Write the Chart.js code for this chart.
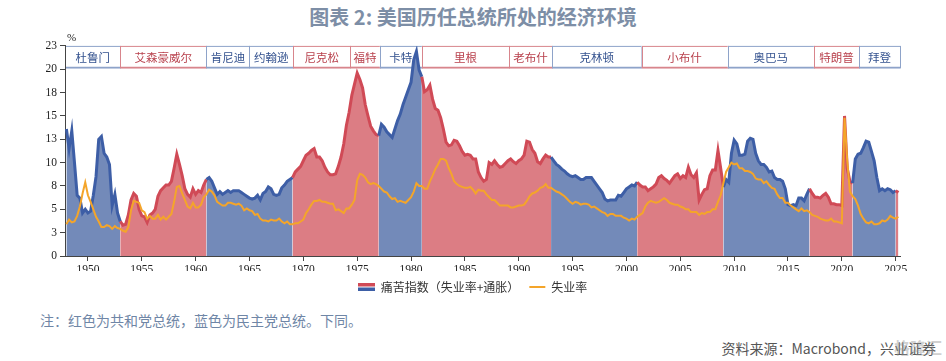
<!DOCTYPE html>
<html>
<head>
<meta charset="utf-8">
<script src="https://cdn.jsdelivr.net/npm/chart.js@4.4.1/dist/chart.umd.min.js"></script>
<style>
body{margin:0;width:946px;height:361px;background:#fff;position:relative;overflow:hidden;font-family:"Noto Sans CJK SC",sans-serif}
#title{position:absolute;top:2px;left:0;width:946px;text-align:center;font-size:20px;font-weight:bold;color:#7d8ea6}
#wrap{position:absolute;left:0;top:36px;width:946px;height:267px}
#pct{position:absolute;left:67px;top:31px;font:11px "Liberation Serif",serif;color:#222}
#note{position:absolute;left:40px;top:310px;font-size:14px;color:#6f86a6}
#src{position:absolute;right:10px;top:338px;font-size:14px;color:#555}
#wm{position:absolute;right:4px;top:335px;font-size:16px;color:rgba(150,150,150,.45);font-weight:bold}
</style>
</head>
<body>
<div id="title">图表 2: 美国历任总统所处的经济环境</div>
<div id="wrap"><canvas id="chart"></canvas></div>
<span id="pct">%</span>
<div id="note">注：红色为共和党总统，蓝色为民主党总统。下同。</div>
<div id="src">资料来源：Macrobond，兴业证券</div>
<div id="wm">格隆汇</div>
<script>
// quarterly values, first point = 1948 Q1
var START_YEAR = 1948;

// 痛苦指数 = 失业率 + 通胀
var misery = [
  13.6, 11.5, 13.4, 10.0,  // 1948
  6.5, 6.2, 4.6, 5.0,
  4.6, 4.8, 6.5, 8.5,      // 1950
  12.5, 12.8, 11.0, 10.6,
  9.8, 5.4, 6.6, 4.6,
  3.7, 3.3, 3.4, 4.4,
  6.0, 6.7, 6.4, 5.0,
  4.3, 4.2, 3.6, 4.4,      // 1955
  4.6, 5.0, 6.4, 7.0,
  7.3, 7.6, 7.6, 8.0,
  9.4, 10.9, 9.8, 8.6,
  7.2, 6.6, 6.3, 7.2,
  6.6, 7.0, 6.8, 7.6,      // 1960
  8.2, 8.4, 8.0, 7.3,
  6.6, 6.9, 6.6, 6.8,
  7.0, 6.8, 7.0, 7.0,
  7.0, 6.8, 6.6, 6.4,
  6.2, 6.1, 6.2, 6.5,      // 1965
  6.0, 6.7, 6.9, 7.4,
  7.2, 6.6, 6.5, 6.6,
  7.3, 7.6, 8.0, 8.2,
  8.4, 9.0, 9.3, 9.6,
  10.2, 10.8, 11.0, 11.3,  // 1970
  11.5, 10.6, 10.6, 10.2,
  9.5, 9.0, 8.7, 8.7,
  8.8, 9.6, 10.6, 12.0,
  14.0, 15.4, 17.2, 18.4,
  19.6, 18.9, 18.0, 16.2,  // 1975
  15.0, 13.9, 13.4, 13.0,
  12.9, 14.1, 13.8, 13.3,
  13.0, 12.7, 13.6, 14.5,
  15.2, 16.2, 17.0, 17.8,
  18.6, 21.0, 21.9, 19.9,  // 1980
  19.2, 17.6, 17.8, 18.3,
  16.8, 15.8, 15.6, 14.8,
  13.6, 12.2, 11.8, 11.9,
  12.4, 12.3, 11.8, 11.2,
  10.8, 10.9, 10.8, 10.4,  // 1985
  10.4, 9.0, 8.4, 8.0,
  8.2, 10.0, 9.8, 10.2,
  9.8, 9.5, 9.6, 9.9,
  10.2, 10.4, 10.1, 9.9,
  10.2, 10.4, 10.8, 12.3,  // 1990
  12.2, 11.4, 11.0, 10.1,
  9.9, 10.4, 10.8, 10.6,
  10.6, 10.2, 9.8, 9.6,
  9.3, 9.1, 8.8, 8.6,
  8.5, 8.6, 8.4, 8.2,      // 1995
  8.2, 8.4, 8.4, 8.4,
  8.0, 7.6, 7.2, 6.8,
  6.1, 5.9, 6.0, 6.0,
  6.0, 6.5, 6.4, 6.8,
  7.2, 7.4, 7.6, 7.5,      // 2000
  7.9, 7.6, 7.4, 7.4,
  7.0, 7.2, 7.4, 7.7,
  8.4, 8.6, 8.3, 8.1,
  7.8, 8.2, 8.6, 8.8,
  8.3, 8.6, 8.4, 9.5,      // 2005
  8.7, 8.4, 8.9, 6.0,
  6.6, 7.1, 7.2, 8.6,
  9.2, 9.2, 11.3, 9.4,
  7.4, 8.2, 7.9, 11.0,
  12.4, 12.0, 10.8, 10.8,  // 2010
  10.9, 12.3, 12.6, 12.5,
  11.0, 10.2, 9.8, 9.8,
  9.5, 9.0, 9.1, 8.4,
  8.2, 8.2, 8.0, 7.2,
  5.5, 5.4, 5.5, 5.4,      // 2015
  6.2, 6.2, 5.9, 6.6,
  7.2, 6.7, 6.3, 6.3,
  6.2, 6.5, 6.7, 6.3,
  5.6, 5.6, 5.5, 5.5,
  5.4, 15.0, 9.4, 8.0,     // 2020
  7.8, 10.4, 10.9, 11.0,
  11.6, 12.3, 12.2, 11.2,
  10.2, 8.4, 7.0, 7.2,
  7.0, 7.2, 7.1, 6.8,
  7.0, 6.8                 // 2025
];

// 失业率
var unemployment = [
  3.4, 3.9, 3.6, 3.7,  // 1948
  4.3, 5.3, 6.7, 7.9,
  6.5, 5.8, 5.0, 4.2,  // 1950
  3.7, 3.1, 3.1, 3.3,
  3.2, 2.9, 3.2, 3.0,
  2.9, 2.7, 2.6, 3.1,
  4.9, 5.9, 5.8, 5.7,
  4.9, 4.7, 4.0, 4.3,  // 1955
  4.0, 4.0, 4.4, 3.9,
  4.2, 3.9, 4.2, 4.5,
  5.8, 7.4, 7.5, 6.7,
  6.0, 5.3, 5.1, 5.7,
  5.2, 5.2, 5.5, 6.3,  // 1960
  6.6, 7.1, 6.9, 6.5,
  5.8, 5.6, 5.4, 5.4,
  5.7, 5.7, 5.6, 5.5,
  5.6, 5.4, 4.9, 5.1,
  4.9, 4.8, 4.4, 4.5,  // 1965
  4.0, 3.8, 3.8, 3.7,
  3.9, 3.8, 3.8, 4.0,
  3.7, 3.5, 3.7, 3.4,
  3.4, 3.5, 3.5, 3.7,
  3.9, 4.6, 5.0, 5.5,  // 1970
  5.9, 5.9, 6.0, 5.8,
  5.8, 5.7, 5.6, 5.6,
  4.9, 5.0, 4.8, 4.6,
  5.1, 5.1, 5.5, 6.0,
  8.1, 8.8, 8.7, 8.4,  // 1975
  7.9, 7.7, 7.8, 7.7,
  7.5, 7.2, 6.9, 6.8,
  6.4, 6.1, 6.2, 5.8,
  5.9, 5.8, 5.7, 6.0,
  6.3, 6.9, 7.8, 7.5,  // 1980
  7.5, 7.2, 7.2, 8.0,
  8.6, 9.3, 9.8, 10.4,
  10.4, 10.2, 9.4, 8.8,
  8.0, 7.7, 7.5, 7.4,
  7.3, 7.3, 7.4, 7.1,  // 1985
  6.7, 7.1, 7.0, 7.0,
  6.6, 6.3, 6.0, 6.0,
  5.7, 5.4, 5.4, 5.4,
  5.4, 5.2, 5.2, 5.3,
  5.4, 5.4, 5.5, 5.9,  // 1990
  6.4, 6.7, 6.8, 7.0,
  7.3, 7.4, 7.7, 7.3,
  7.3, 7.1, 6.9, 6.8,
  6.6, 6.4, 6.1, 5.8,
  5.6, 5.8, 5.7, 5.5,  // 1995
  5.6, 5.6, 5.5, 5.2,
  5.3, 5.1, 4.9, 4.7,
  4.6, 4.3, 4.5, 4.5,
  4.3, 4.3, 4.3, 4.1,
  4.0, 3.8, 4.0, 3.9,  // 2000
  4.2, 4.4, 4.6, 5.3,
  5.7, 5.9, 5.8, 5.7,
  5.8, 6.0, 6.2, 6.0,
  5.7, 5.6, 5.5, 5.5,
  5.3, 5.2, 5.0, 5.0,  // 2005
  4.7, 4.7, 4.7, 4.4,
  4.6, 4.5, 4.7, 4.7,
  5.0, 5.0, 5.8, 6.5,
  7.8, 9.0, 9.5, 10.0,
  9.8, 9.9, 9.4, 9.4,  // 2010
  9.1, 9.1, 9.0, 8.8,
  8.3, 8.2, 8.2, 7.8,
  8.0, 7.6, 7.3, 7.2,
  6.6, 6.2, 6.2, 5.7,
  5.7, 5.4, 5.2, 5.0,  // 2015
  4.8, 5.1, 4.8, 4.9,
  4.7, 4.4, 4.3, 4.2,
  4.0, 3.9, 3.8, 3.8,
  4.0, 3.7, 3.7, 3.6,
  3.5, 14.8, 10.2, 6.9, // 2020
  6.4, 6.1, 5.4, 4.5,
  4.0, 3.6, 3.5, 3.7,
  3.4, 3.4, 3.5, 3.8,
  3.7, 3.9, 4.3, 4.1,
  4.0, 4.2             // 2025
];

// shading by party of the sitting president
var shadeStart = [1948, 1953, 1961, 1969, 1977, 1981, 1993, 2001, 2009, 2017, 2021, 2025];
var shadeParty = ['D', 'R', 'D', 'R', 'D', 'R', 'D', 'R', 'D', 'R', 'D', 'R'];

// president boxes along the top
var presidents = ['杜鲁门', '艾森豪威尔', '肯尼迪', '约翰逊', '尼克松', '福特', '卡特', '里根', '老布什', '克林顿', '小布什', '奥巴马', '特朗普', '拜登'];
var presParty  = ['D', 'R', 'D', 'D', 'R', 'R', 'D', 'R', 'R', 'D', 'R', 'D', 'R', 'D'];
var presStart  = [1947.87, 1953, 1961, 1965, 1969.05, 1974.35, 1977.1, 1981, 1989.1, 1993.1, 2001.4, 2009.4, 2017.4, 2021.6];

var xTickYears  = [1950, 1955, 1960, 1965, 1970, 1975, 1980, 1985, 1990, 1995, 2000, 2005, 2010, 2015, 2020, 2025];
var yTickValues = [0, 2.5, 5, 7.5, 10, 12.5, 15, 17.5, 20, 22.5];
var yTickLabels = ['0', '3', '5', '8', '10', '13', '15', '18', '20', '23'];

var X_MIN = 1947.87, X_MAX = 2025.4;

var RED_LINE = '#d04a56', RED_FILL = '#dc7d84';
var BLUE_LINE = '#3d5ea6', BLUE_FILL = '#738ab9';
var ORANGE = '#f4a52a';

function partyAt(x) {
  var p = shadeParty[0];
  for (var i = 0; i < shadeStart.length; i++) {
    if (shadeStart[i] <= x + 1e-6) p = shadeParty[i];
  }
  return p;
}

var quarters = misery.map(function (v, i) { return START_YEAR + i / 4; });

// legend icon: red over blue
var icon = document.createElement('canvas');
icon.width = 17; icon.height = 8;
var ic = icon.getContext('2d');
ic.fillStyle = RED_LINE; ic.fillRect(0, 0, 17, 3.5);
ic.fillStyle = BLUE_LINE; ic.fillRect(0, 4.5, 17, 3.5);

var presBar = {
  id: 'presBar',
  beforeDraw: function (chart) {
    var c = chart.ctx, a = chart.chartArea, xs = chart.scales.x;
    var top = a.top, h = 21.5;
    c.save();
    c.font = '11.5px "Noto Sans CJK SC"';
    c.textAlign = 'center';
    c.textBaseline = 'middle';
    for (var i = 0; i < presidents.length; i++) {
      var x0 = xs.getPixelForValue(presStart[i]);
      var x1 = i + 1 < presStart.length ? xs.getPixelForValue(presStart[i + 1]) : a.right;
      var rep = presParty[i] === 'R';
      c.fillStyle = '#fff';
      c.fillRect(x0, top, x1 - x0, h);
      c.strokeStyle = rep ? '#d8858c' : '#8ea3c9';
      c.lineWidth = 1;
      c.strokeRect(Math.round(x0) + 0.5, top + 0.5, Math.round(x1 - x0), h);
      c.lineWidth = 1.5;
      c.beginPath();
      c.moveTo(x0, top + h);
      c.lineTo(x1, top + h);
      c.stroke();
      c.fillStyle = rep ? '#b8404c' : '#34528f';
      c.fillText(presidents[i], (x0 + x1) / 2, top + h / 2 + 1);
    }
    c.restore();
  }
};

new Chart(document.getElementById('chart'), {
  type: 'line',
  data: {
    datasets: [{
      label: '痛苦指数（失业率+通胀）',
      data: quarters.map(function (x, i) { return { x: x, y: misery[i] }; }),
      order: 1,
      borderColor: BLUE_LINE,
      backgroundColor: BLUE_FILL,
      borderWidth: 3,
      fill: 'origin',
      pointRadius: 0,
      pointStyle: icon,
      tension: 0,
      segment: {
        borderColor: function (ctx) { return partyAt(ctx.p0.parsed.x) === 'R' ? RED_LINE : BLUE_LINE; },
        backgroundColor: function (ctx) { return partyAt(ctx.p0.parsed.x) === 'R' ? RED_FILL : BLUE_FILL; }
      }
    }, {
      label: '失业率',
      data: quarters.map(function (x, i) { return { x: x, y: unemployment[i] }; }),
      order: 0,
      borderColor: ORANGE,
      backgroundColor: ORANGE,
      borderWidth: 2,
      fill: false,
      pointRadius: 0,
      pointStyle: 'line',
      tension: 0
    }]
  },
  options: {
    responsive: true,
    maintainAspectRatio: false,
    animation: false,
    devicePixelRatio: 1,
    layout: { padding: { left: 46, right: 46, top: 6, bottom: 0 } },
    plugins: {
      filler: { drawTime: 'beforeDatasetsDraw' },
      tooltip: { enabled: false },
      legend: {
        position: 'bottom',
        labels: {
          usePointStyle: true,
          pointStyleWidth: 16,
          padding: 10,
          color: '#333',
          font: { family: '"Noto Sans CJK SC"', size: 12 },
          sort: function (a, b) { return a.datasetIndex - b.datasetIndex; }
        }
      }
    },
    scales: {
      x: {
        type: 'linear',
        min: X_MIN,
        max: X_MAX,
        afterFit: function (s) { s.height = 15; },
        afterBuildTicks: function (s) { s.ticks = xTickYears.map(function (v) { return { value: v }; }); },
        grid: { display: true, drawOnChartArea: false, drawTicks: true, tickLength: 5, color: '#444' },
        border: { display: true, color: '#444', width: 1 },
        ticks: {
          padding: 2,
          color: '#222',
          font: { family: '"Liberation Serif"', size: 11.5 },
          maxRotation: 0,
          callback: function (v) { return String(v); }
        }
      },
      y: {
        min: 0,
        max: 22.5,
        afterFit: function (s) { s.width = 19; },
        afterBuildTicks: function (s) { s.ticks = yTickValues.map(function (v) { return { value: v }; }); },
        grid: { display: true, drawOnChartArea: false, drawTicks: true, tickLength: 5, color: '#444' },
        border: { display: true, color: '#444', width: 1 },
        ticks: {
          padding: 3,
          color: '#222',
          font: { family: '"Liberation Serif"', size: 11.5 },
          callback: function (v, i) { return yTickLabels[i]; }
        }
      }
    }
  },
  plugins: [presBar]
});
</script>
</body>
</html>
